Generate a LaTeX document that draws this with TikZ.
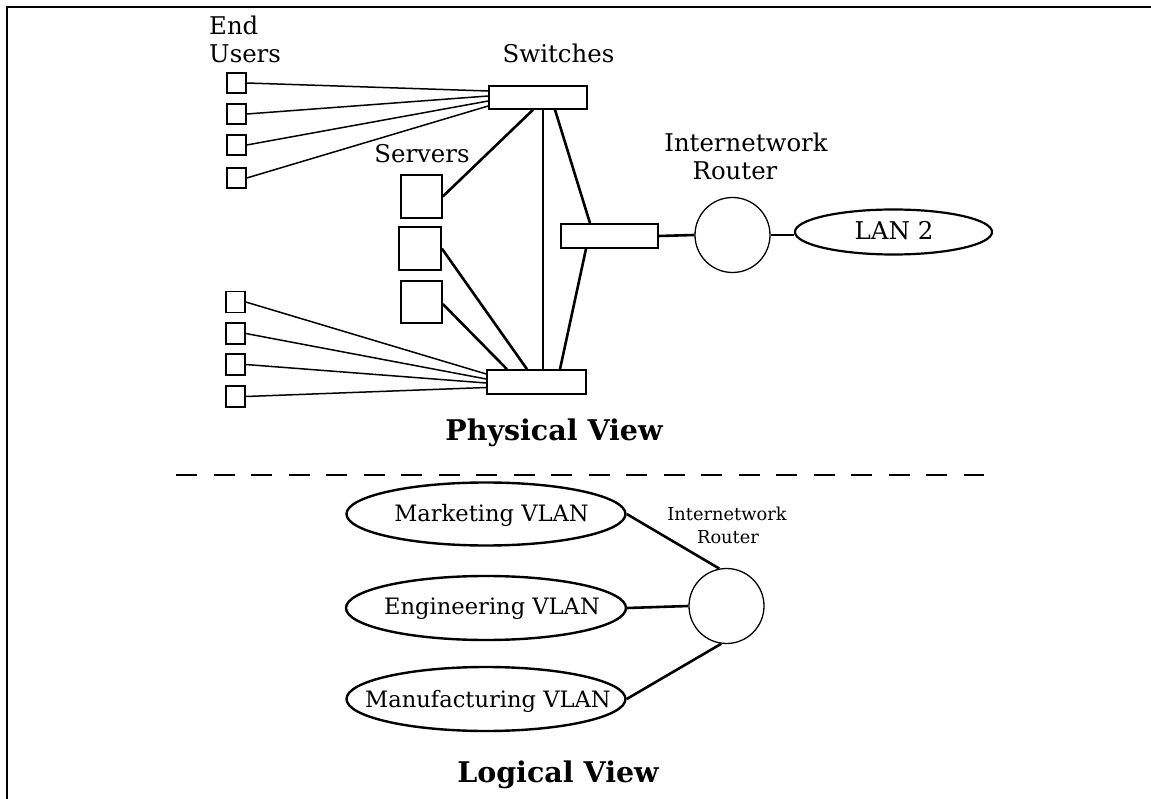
\documentclass[tikz,border=0pt]{standalone}
\usepackage{fontspec}
\setmainfont{DejaVu Serif}
\usetikzlibrary{shapes.geometric,calc}
\tikzset{
  usr/.style={draw,line width=1.5pt,minimum width=19pt,minimum height=20pt,inner sep=0pt},
  swbox/.style={draw,line width=1.6pt,minimum width=98pt,minimum height=23pt,inner sep=0pt},
  srv/.style={draw,line width=1.6pt,minimum width=41pt,minimum height=43pt,inner sep=0pt},
  rtr/.style={draw,circle,line width=1.3pt,minimum size=75pt,inner sep=0pt},
  vlan/.style={draw,ellipse,line width=2.4pt,minimum width=279pt,minimum height=63pt,inner sep=0pt},
  vlantxt/.style={anchor=base,inner sep=0pt,font=\fontsize{22.6}{27}\selectfont},
  lbl/.style={anchor=base,inner sep=0pt,font=\fontsize{24.4}{29}\selectfont},
  slbl/.style={anchor=base,inner sep=0pt,font=\fontsize{17.8}{22}\selectfont},
  ttl/.style={anchor=base,inner sep=0pt,font=\fontsize{28.5}{34}\selectfont\bfseries},
  thinlink/.style={line width=1.5pt},
  thicklink/.style={line width=2.6pt},
}
\begin{document}
\begin{tikzpicture}[x=1pt,y=-1pt]
\useasboundingbox (0,0) rectangle (1151,799);
% frame
\coordinate (ftl) at (7,7);
\coordinate (fbl) at (7,799);
\coordinate (ftr) at (1151,7);
\draw[line width=2pt] (fbl) -- (ftl) -- (ftr);

% labels
\node[lbl,anchor=base west] (endlbl) at (209,35) {End};
\node[lbl,anchor=base west] (userslbl) at (209,63) {Users};
\node[lbl] (swlbl) at (558.5,63) {Switches};
\node[lbl] (srvlbl) at (422,163) {Servers};
\node[lbl] (inetlbl) at (746,152) {Internetwork};
\node[lbl] (rtrlbl) at (735,180) {Router};

% end users
\node[usr] (u1) at (236.5,83) {};
\node[usr] (u2) at (236.5,114) {};
\node[usr] (u3) at (236.5,145) {};
\node[usr] (u4) at (236.5,178) {};
\node[usr,minimum height=21pt] (u5) at (235.5,302) {};
\node[usr,minimum height=21pt] (u6) at (235.5,333.5) {};
\node[usr,minimum height=21pt] (u7) at (235.5,364.5) {};
\node[usr,minimum height=21pt] (u8) at (235.5,396.5) {};

% switches
\node[swbox] (sw1) at (538,97.5) {};
\node[swbox,minimum width=99pt,minimum height=24pt] (sw2) at (536.5,382) {};
\node[swbox,minimum width=97pt,minimum height=24pt] (sw3) at (609.5,236) {};

% servers
\node[srv] (s1) at (421.5,196.5) {};
\node[srv,minimum width=42pt] (s2) at (420,248.5) {};
\node[srv,minimum height=42pt] (s3) at (421.5,302) {};

% router and LAN 2
\node[rtr] (r1) at (732.5,235) {};
\node[draw,ellipse,line width=2.2pt,minimum width=197pt,minimum height=45pt,inner sep=0pt] (lan2) at (893.5,232) {};
\node[vlantxt,font=\fontsize{24.5}{29}\selectfont] (lan2txt) at (894,240) {LAN 2};

% links end users -> switches
\draw[thinlink] (u1.east) -- ($(sw1.west)+(0,-6.5)$);
\draw[thinlink] (u2.east) -- ($(sw1.west)+(0,-1.5)$);
\draw[thinlink] (u3.east) -- ($(sw1.west)+(0,3.5)$);
\draw[thinlink] (u4.east) -- ($(sw1.west)+(0,8.5)$);
\draw[thinlink] (u5.east) -- ($(sw2.west)+(0,-8)$);
\draw[thinlink] (u6.east) -- ($(sw2.west)+(0,-3)$);
\draw[thinlink] (u7.east) -- ($(sw2.west)+(0,1)$);
\draw[thinlink] (u8.east) -- ($(sw2.west)+(0,5.5)$);

% thick links
\draw[thicklink] ($(sw1.south)+(-5,0)$) -- (s1.east);
\draw[thicklink] ($(sw1.south)+(5,0)$) -- ($(sw2.north)+(6.5,0)$);
\draw[thicklink] ($(sw1.south)+(17,0)$) -- ($(sw3.north)+(-19.5,0)$);
\draw[thicklink] ($(sw3.south)+(-23.5,0)$) -- ($(sw2.north)+(23.5,0)$);
\draw[thicklink] (s2.east) -- ($(sw2.north)+(-9.5,0)$);
\draw[thicklink] ($(s3.east)+(0,2)$) -- ($(sw2.north)+(-29.5,0)$);
\draw[thicklink] (sw3.east) -- (r1.west);
\draw[thicklink] (r1.east) -- (r1.east -| lan2.west);

\node[ttl] (phys) at (554,440) {Physical View};

% separator
\coordinate (dl) at (176,475);
\coordinate (dr) at (984,475);
\draw[line width=2.8pt,dash pattern=on 21pt off 16.5pt] (dl) -- (dr);

% logical view
\node[vlan] (mkt) at (486,514) {};
\node[vlan,minimum width=280pt,minimum height=64pt] (eng) at (486,608) {};
\node[vlan,minimum height=64pt] (mfg) at (486,699) {};
\node[vlantxt] (mkttxt) at (491.5,521) {Marketing VLAN};
\node[vlantxt] (engtxt) at (492,614) {Engineering VLAN};
\node[vlantxt] (mfgtxt) at (488,707) {Manufacturing VLAN};
\node[rtr] (r2) at (726.5,606) {};
\node[slbl] (inetlbl2) at (727,520) {Internetwork};
\node[slbl] (rtrlbl2) at (728,543) {Router};
\draw[thicklink] (mkt.east) -- (r2.101);
\draw[thicklink] (eng.east) -- (r2.west);
\draw[thicklink] (mfg.east) -- (r2.262);

\node[ttl] (logi) at (558,782) {Logical View};
\end{tikzpicture}
\end{document}
